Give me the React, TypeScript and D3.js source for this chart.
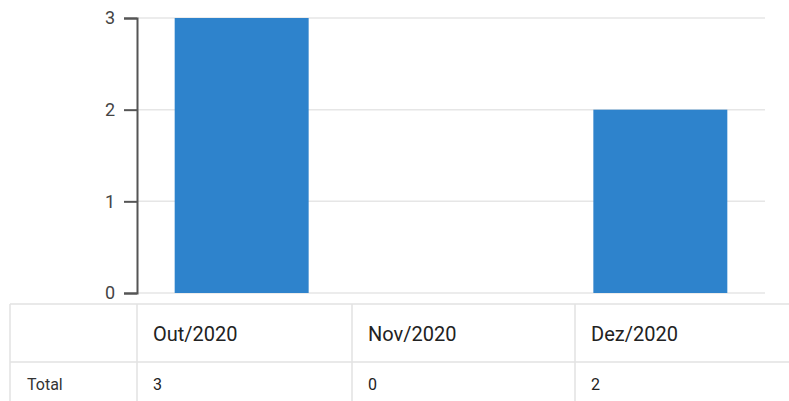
import React, { useEffect, useRef } from 'react';
import * as d3 from 'd3';

const months = ['Out/2020', 'Nov/2020', 'Dez/2020'];
const totals = [3, 0, 2];
const yTicks = [0, 1, 2, 3];
const rowLabel = 'Total';

const App: React.FC = () => {
  const svgRef = useRef<SVGSVGElement>(null);

  useEffect(() => {
    if (!svgRef.current) return;

    const width = 789;
    const height = 401;
    const font = 'Roboto, "Noto Sans", sans-serif';

    // Chart area
    const left = 137;
    const right = 765;
    const top = 18;
    const bottom = 293;

    d3.select(svgRef.current).selectAll('*').remove();

    const svg = d3.select(svgRef.current)
      .attr('width', width)
      .attr('height', height)
      .attr('viewBox', `0 0 ${width} ${height}`);

    const x = d3.scaleBand<string>()
      .domain(months)
      .range([left, right])
      .paddingInner(0.36)
      .paddingOuter(0.18);

    const y = d3.scaleLinear()
      .domain([0, d3.max(yTicks) as number])
      .range([bottom, top]);

    // Gridlines
    svg.append('g')
      .selectAll('line')
      .data(yTicks)
      .join('line')
      .attr('x1', left)
      .attr('x2', right)
      .attr('y1', d => y(d))
      .attr('y2', d => y(d))
      .attr('stroke', '#e6e6e6')
      .attr('stroke-width', 1.5);

    // Bars
    svg.append('g')
      .selectAll('rect')
      .data(months)
      .join('rect')
      .attr('x', d => x(d) as number)
      .attr('width', x.bandwidth())
      .attr('y', (d, i) => y(totals[i]))
      .attr('height', (d, i) => bottom - y(totals[i]))
      .attr('fill', '#2e83cc');

    // Y axis
    const axis = svg.append('g')
      .attr('transform', `translate(${left},0)`)
      .call(d3.axisLeft(y).tickValues(yTicks).tickFormat(d3.format('d')).tickSize(13).tickPadding(9));

    axis.selectAll('path, line')
      .attr('stroke', '#555')
      .attr('stroke-width', 2);
    axis.selectAll('text')
      .attr('font-family', font)
      .attr('font-size', 18)
      .attr('fill', '#444');

    // Data table
    const tableTop = 304;
    const headerBottom = 362;
    const tableBottom = 420;
    const colEdges = [10, 137, 352, 575, 789];
    const lineColor = '#e2e2e2';

    const table = svg.append('g');

    [tableTop, headerBottom].forEach(yy => {
      table.append('line')
        .attr('x1', colEdges[0])
        .attr('x2', width)
        .attr('y1', yy)
        .attr('y2', yy)
        .attr('stroke', lineColor)
        .attr('stroke-width', 1.5);
    });

    colEdges.slice(0, 4).forEach(xx => {
      table.append('line')
        .attr('x1', xx)
        .attr('x2', xx)
        .attr('y1', tableTop)
        .attr('y2', tableBottom)
        .attr('stroke', lineColor)
        .attr('stroke-width', 1.5);
    });

    // Header cells
    table.selectAll('text.head')
      .data(months)
      .join('text')
      .attr('class', 'head')
      .attr('x', (d, i) => colEdges[i + 1] + 16)
      .attr('y', 341)
      .attr('font-family', font)
      .attr('font-size', 20)
      .attr('fill', '#222')
      .text(d => d);

    // Body row
    table.append('text')
      .attr('x', 27)
      .attr('y', 390)
      .attr('font-family', font)
      .attr('font-size', 16)
      .attr('fill', '#333')
      .text(rowLabel);

    table.selectAll('text.cell')
      .data(totals)
      .join('text')
      .attr('class', 'cell')
      .attr('x', (d, i) => colEdges[i + 1] + 16)
      .attr('y', 390)
      .attr('font-family', font)
      .attr('font-size', 16)
      .attr('fill', '#222')
      .text(d => `${d}`);
  }, []);

  return (
    <div style={{ position: 'absolute', left: 0, top: 0 }}>
      <svg ref={svgRef} style={{ display: 'block' }}></svg>
    </div>
  );
};

export default App;
